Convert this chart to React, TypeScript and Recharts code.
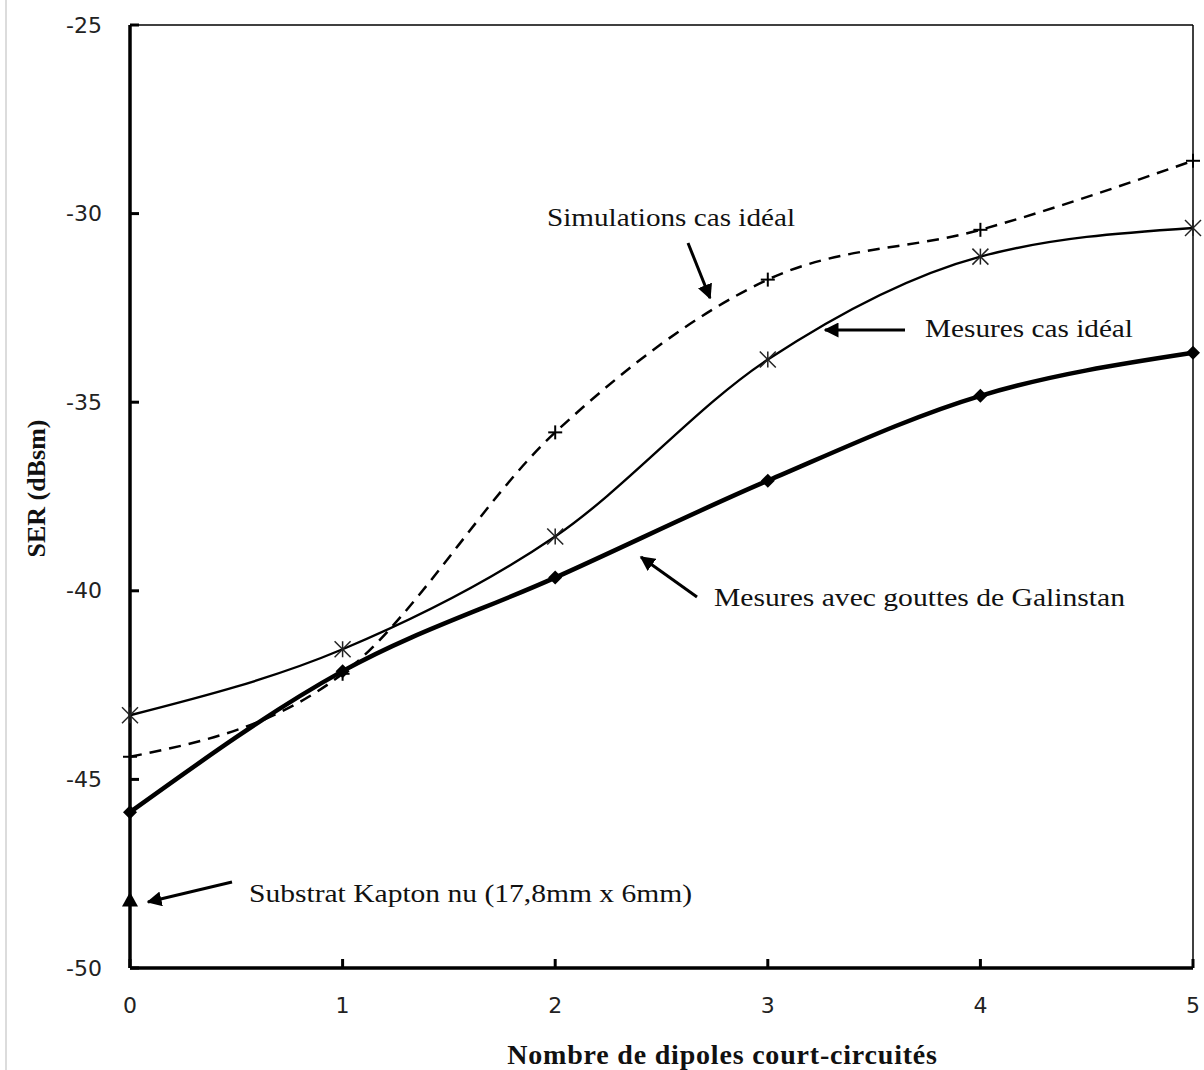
import React from 'react';
import { ComposedChart, Line, XAxis, YAxis, ReferenceLine } from 'recharts';

const dipoles = [0, 1, 2, 3, 4, 5];
const simulationsIdeal = [-44.4, -42.2, -35.8, -31.75, -30.43, -28.6];
const mesuresIdeal = [-43.3, -41.55, -38.56, -33.87, -31.14, -30.38];
const mesuresGalinstan = [-45.87, -42.13, -39.65, -37.08, -34.83, -33.69];
const kaptonNu = [-48.2, null, null, null, null, null];
const yTicks = [-50, -45, -40, -35, -30, -25];

const data = dipoles.map((d, i) => ({
  n: d,
  sim: simulationsIdeal[i],
  ideal: mesuresIdeal[i],
  gal: mesuresGalinstan[i],
  kapton: kaptonNu[i],
}));

const TICK_FONT = '"DejaVu Sans", sans-serif';
const SERIF = '"Liberation Serif", "Times New Roman", serif';

const PlusDot = (props: any) => {
  const { cx, cy, index } = props;
  if (cx == null || cy == null) return <g key={`p-${index}`} />;
  return (
    <g key={`p-${index}`} stroke="#000" strokeWidth={2}>
      <line x1={cx - 7} x2={cx + 7} y1={cy} y2={cy} />
      <line x1={cx} x2={cx} y1={cy - 7} y2={cy + 7} />
    </g>
  );
};

const StarDot = (props: any) => {
  const { cx, cy, index } = props;
  if (cx == null || cy == null) return <g key={`s-${index}`} />;
  const r = 8;
  return (
    <g key={`s-${index}`} stroke="#222" strokeWidth={1.5}>
      <line x1={cx - r} x2={cx + r} y1={cy - r} y2={cy + r} />
      <line x1={cx - r} x2={cx + r} y1={cy + r} y2={cy - r} />
      <line x1={cx} x2={cx} y1={cy - r} y2={cy + r} />
    </g>
  );
};

const DiamondDot = (props: any) => {
  const { cx, cy, index } = props;
  if (cx == null || cy == null) return <g key={`d-${index}`} />;
  const r = 7;
  return (
    <polygon
      key={`d-${index}`}
      points={`${cx},${cy - r} ${cx + r},${cy} ${cx},${cy + r} ${cx - r},${cy}`}
      fill="#000"
    />
  );
};

const TriangleDot = (props: any) => {
  const { cx, cy, index, value } = props;
  if (cx == null || cy == null || value == null) return <g key={`t-${index}`} />;
  const r = 8;
  return (
    <polygon
      key={`t-${index}`}
      points={`${cx},${cy - r} ${cx + r},${cy + r * 0.8} ${cx - r},${cy + r * 0.8}`}
      fill="#000"
    />
  );
};

// ticks drawn inward from the axis line
const YTick = (props: any) => {
  const { x, y, payload } = props;
  return (
    <g>
      <line x1={x + 28} x2={x + 37} y1={y} y2={y} stroke="#000" strokeWidth={3} />
      <text x={x} y={y} textAnchor="end" dominantBaseline="central" fontFamily={TICK_FONT} fontSize={22} fill="#222">
        {payload.value}
      </text>
    </g>
  );
};

const XTick = (props: any) => {
  const { x, y, payload } = props;
  return (
    <g>
      <line x1={x} x2={x} y1={y} y2={y - 9} stroke="#000" strokeWidth={3} />
      <text x={x} y={y + 37} textAnchor="middle" dominantBaseline="central" fontFamily={TICK_FONT} fontSize={22} fill="#222">
        {payload.value}
      </text>
    </g>
  );
};

const annStyle = { fontFamily: SERIF, fontSize: 26, fill: '#111' };

const Annotations = () => (
  <svg width={1204} height={1070} style={{ position: 'absolute', left: 0, top: 0, pointerEvents: 'none' }}>
    <defs>
      <marker id="head" viewBox="0 0 10 10" refX="9" refY="5" markerWidth="5" markerHeight="5" orient="auto">
        <path d="M0,0 L10,5 L0,10 z" fill="#000" />
      </marker>
    </defs>
    <line x1={6} x2={6} y1={0} y2={1070} stroke="#d0d0d0" strokeWidth={1.5} />
    <g stroke="#000" strokeWidth={3} markerEnd="url(#head)">
      <line x1={688} y1={243} x2={710} y2={298} />
      <line x1={905} y1={330} x2={825} y2={330} />
      <line x1={697} y1={597} x2={641} y2={557} />
      <line x1={232} y1={882} x2={148} y2={902} />
    </g>
    <text x={547} y={217} dominantBaseline="central" textLength={248} lengthAdjust="spacingAndGlyphs" {...annStyle}>
      Simulations cas idéal
    </text>
    <text x={925} y={328} dominantBaseline="central" textLength={208} lengthAdjust="spacingAndGlyphs" {...annStyle}>
      Mesures cas idéal
    </text>
    <text x={714} y={597} dominantBaseline="central" textLength={411} lengthAdjust="spacingAndGlyphs" {...annStyle}>
      Mesures avec gouttes de Galinstan
    </text>
    <text x={249} y={893} dominantBaseline="central" textLength={443} lengthAdjust="spacingAndGlyphs" {...annStyle}>
      Substrat Kapton nu (17,8mm x 6mm)
    </text>
  </svg>
);

export default function App() {
  return (
    <div style={{ position: 'absolute', left: 0, top: 0, width: 1204, height: 1070, background: '#fff' }}>
      <ComposedChart width={1204} height={1070} data={data} margin={{ top: 25, right: 11, bottom: 0, left: 0 }}>
        <XAxis
          dataKey="n"
          type="number"
          domain={[0, 5]}
          ticks={dipoles}
          height={102}
          tickSize={0}
          tickMargin={0}
          tick={<XTick />}
          axisLine={{ stroke: '#000', strokeWidth: 3.5 }}
          tickLine={false}
          label={{
            value: 'Nombre de dipoles court-circuités',
            position: 'insideBottom',
            offset: 6,
            dx: 61,
            style: { fontFamily: SERIF, fontWeight: 'bold', fontSize: 28, letterSpacing: 0.8, fill: '#111' },
          }}
        />
        <YAxis
          type="number"
          domain={[-50, -25]}
          ticks={yTicks}
          width={130}
          tickSize={0}
          tickMargin={28}
          tick={<YTick />}
          axisLine={{ stroke: '#000', strokeWidth: 3.5 }}
          tickLine={false}
          label={{
            value: 'SER (dBsm)',
            angle: -90,
            position: 'insideLeft',
            offset: 36,
            dy: -8,
            style: { fontFamily: SERIF, fontWeight: 'bold', fontSize: 26, fill: '#111', textAnchor: 'middle' },
          }}
        />
        <ReferenceLine y={-25} stroke="#000" strokeWidth={1.5} />
        <ReferenceLine x={5} stroke="#000" strokeWidth={1.5} />
        <Line
          dataKey="sim"
          type="monotone"
          stroke="#000"
          strokeWidth={2.5}
          strokeDasharray="12 8"
          dot={<PlusDot />}
          activeDot={false}
          isAnimationActive={false}
        />
        <Line
          dataKey="ideal"
          type="monotone"
          stroke="#000"
          strokeWidth={2.4}
          dot={<StarDot />}
          activeDot={false}
          isAnimationActive={false}
        />
        <Line
          dataKey="gal"
          type="monotone"
          stroke="#000"
          strokeWidth={4.5}
          dot={<DiamondDot />}
          activeDot={false}
          isAnimationActive={false}
        />
        <Line
          dataKey="kapton"
          stroke="#000"
          strokeWidth={0}
          dot={<TriangleDot />}
          activeDot={false}
          isAnimationActive={false}
        />
      </ComposedChart>
      <Annotations />
    </div>
  );
}
